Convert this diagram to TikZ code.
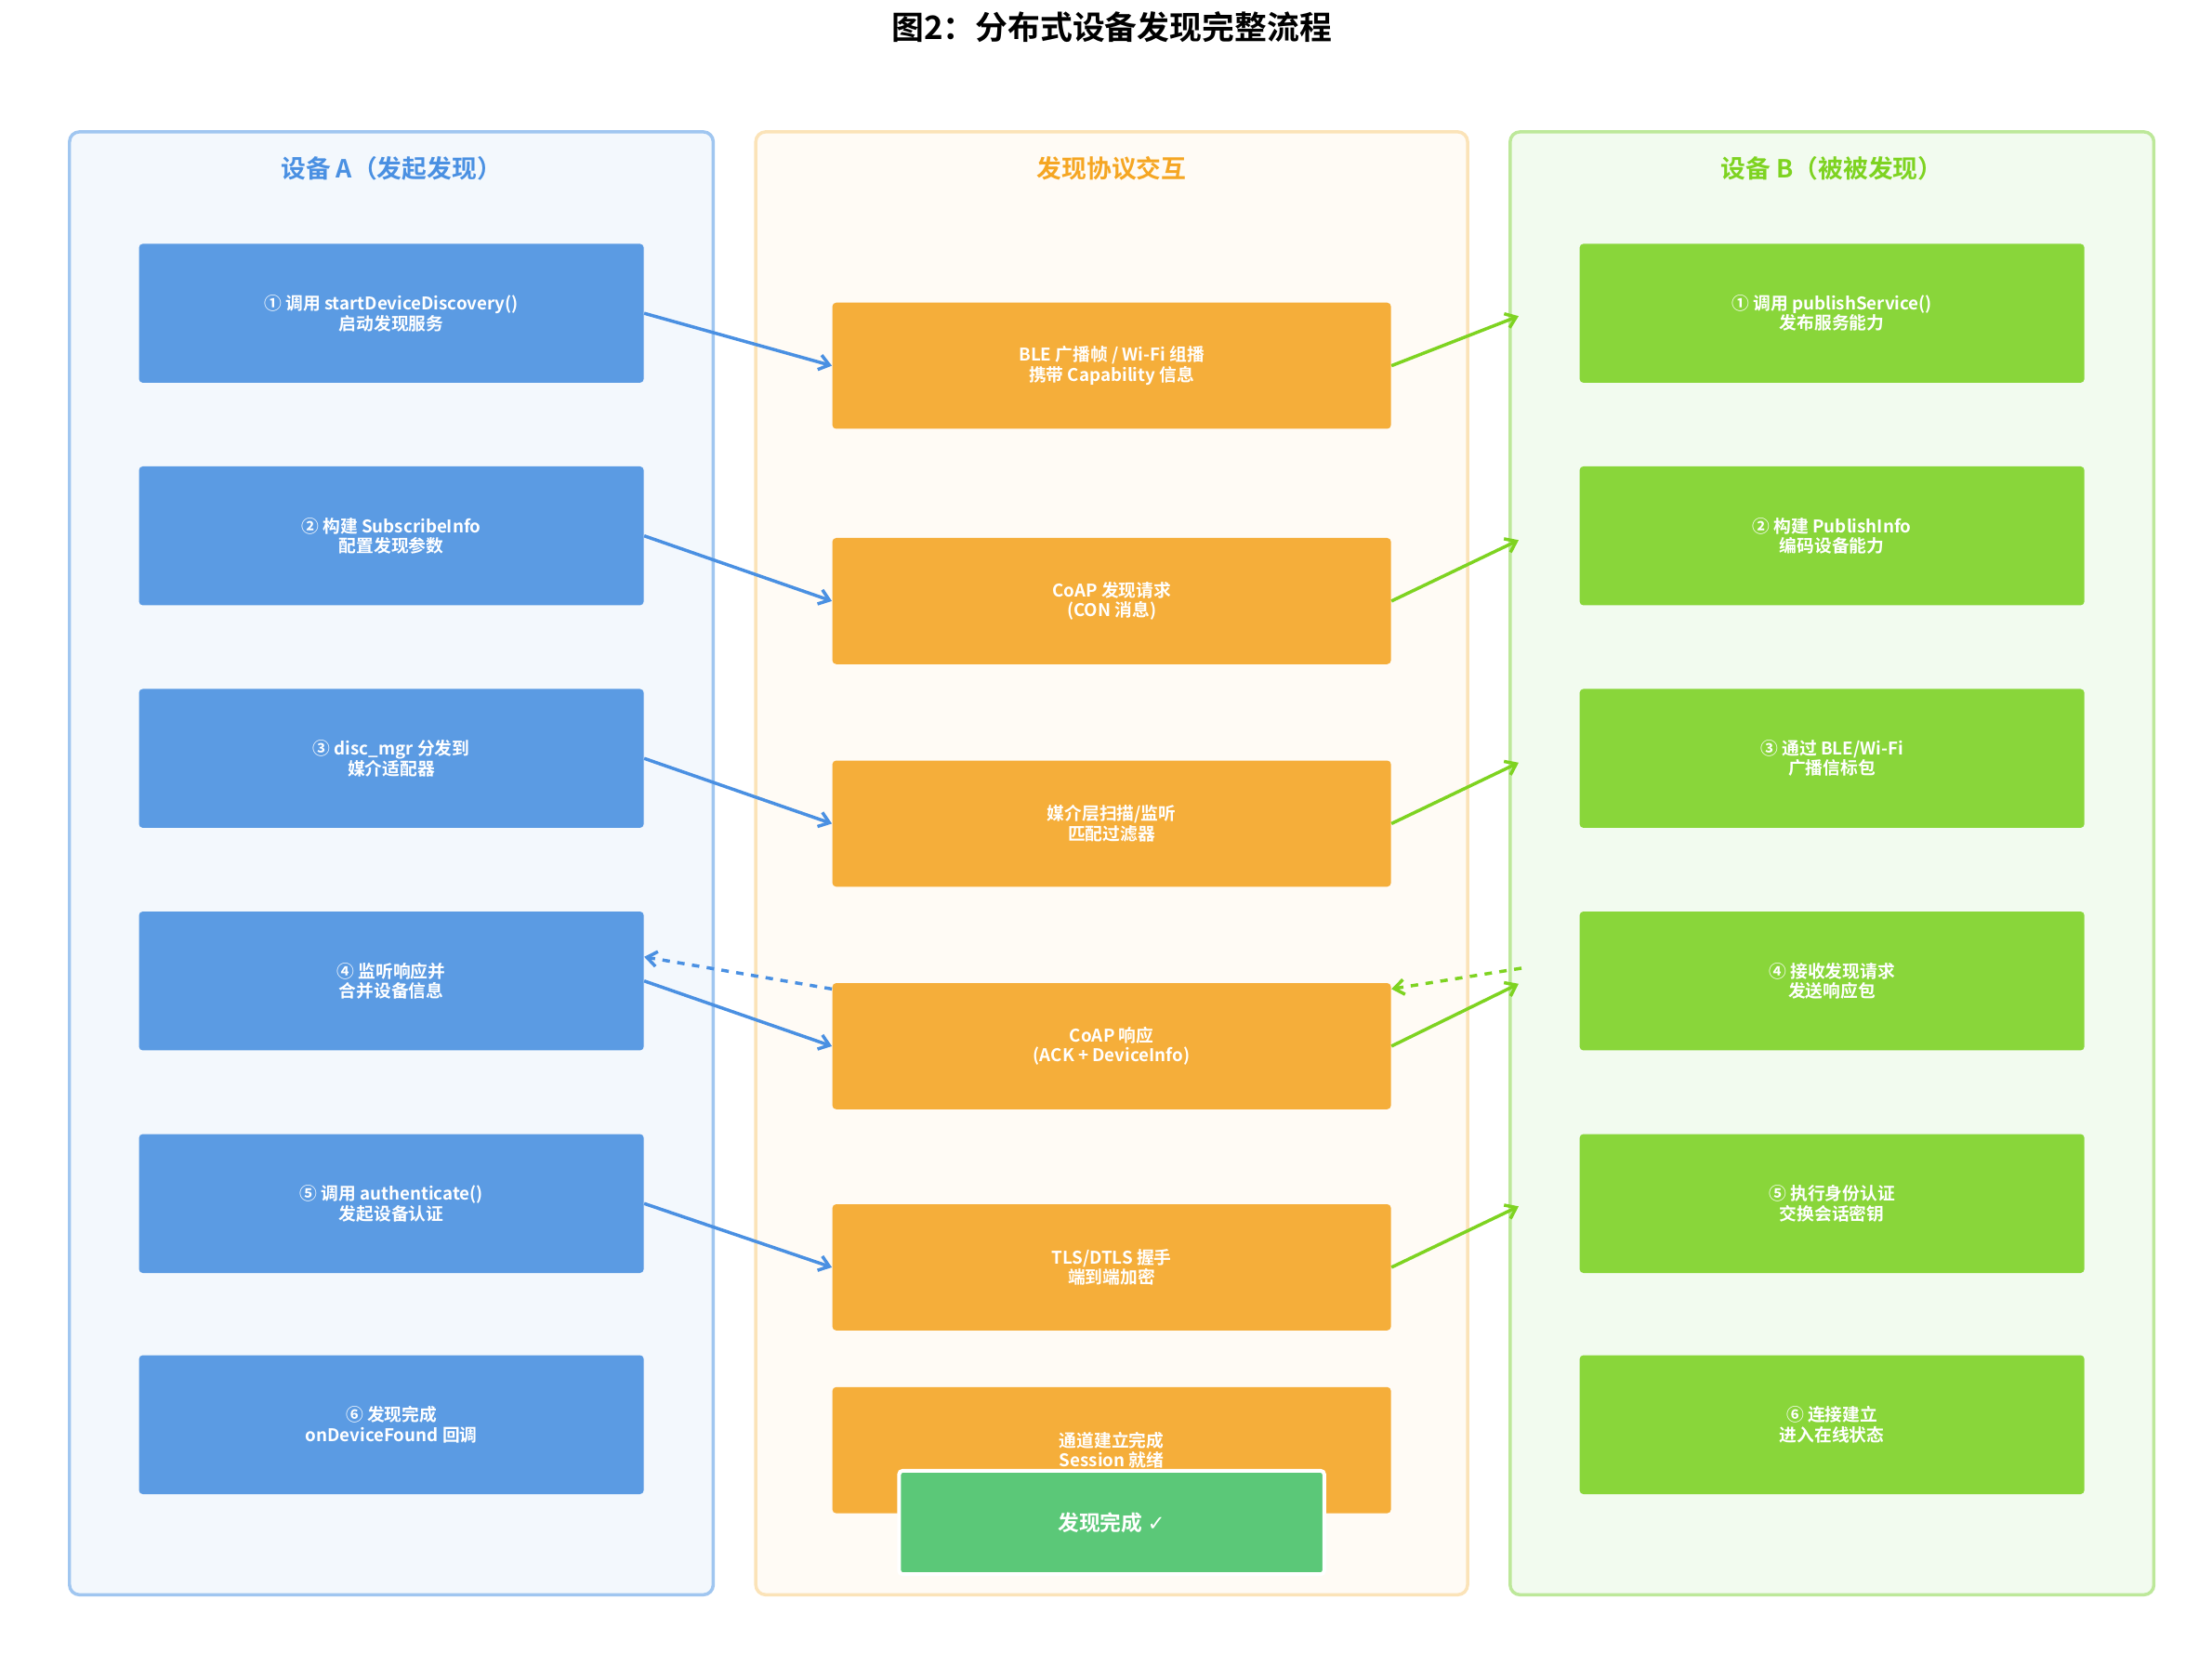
\documentclass[tikz,border=0pt]{standalone}
\usepackage{fontspec}
\setmainfont{Noto Sans CJK SC}[BoldFont={Noto Sans CJK SC Bold}]
\newfontfamily\symfont{DejaVu Sans}
\usetikzlibrary{arrows.meta}
\definecolor{ablue}{HTML}{5B9BE3}
\definecolor{ablueline}{HTML}{4A90E2}
\definecolor{apanel}{HTML}{F3F8FD}
\definecolor{apanelline}{HTML}{A0C6F0}
\definecolor{morange}{HTML}{F5AE3A}
\definecolor{mtitle}{HTML}{F5A623}
\definecolor{mpanel}{HTML}{FFFBF5}
\definecolor{mpanelline}{HTML}{FBE3B8}
\definecolor{bgreen}{HTML}{89D63A}
\definecolor{bgreenline}{HTML}{7ED321}
\definecolor{bpanel}{HTML}{F2FBEF}
\definecolor{bpanelline}{HTML}{BDE89A}
\definecolor{donegreen}{HTML}{5BC878}
\tikzset{
  panel/.style={rounded corners=4pt, line width=1.3pt},
  stepbox/.style={rounded corners=1.5pt, text=white, font=\bfseries\fontsize{7}{8}\selectfont, align=center, inner sep=0pt},
  flow/.style={line width=1.3pt, -{Straight Barb[length=4pt,width=6pt]}},
}
\begin{document}
\begin{tikzpicture}[x=0.02cm,y=-0.02cm]
	\useasboundingbox (0,0) rectangle (1560,1166);
	\node (title) at (784,19) {\bfseries\fontsize{13}{15}\selectfont 图2：分布式设备发现完整流程};
	% panels
	\draw [panel, apanelline, fill=apanel] (49,93) rectangle (503,1125);
	\draw [panel, mpanelline, fill=mpanel] (533,93) rectangle (1035,1125);
	\draw [panel, bpanelline, fill=bpanel] (1065,93) rectangle (1519,1125);
	\node [text=ablueline] (tA) at (276,119) {\bfseries\fontsize{10}{12}\selectfont 设备 A（发起发现）};
	\node [text=mtitle] (tM) at (784,119) {\bfseries\fontsize{10}{12}\selectfont 发现协议交互};
	\node [text=bgreenline] (tB) at (1292,119) {\bfseries\fontsize{10}{12}\selectfont 设备 B（被被发现）};
	% device A
	\node [stepbox, fill=ablue, minimum width=7.12cm, minimum height=1.96cm] (a1) at (276,221) {① 调用 startDeviceDiscovery()\\启动发现服务};
	\node [stepbox, fill=ablue, minimum width=7.12cm, minimum height=1.96cm] (a2) at (276,378) {② 构建 SubscribeInfo\\配置发现参数};
	\node [stepbox, fill=ablue, minimum width=7.12cm, minimum height=1.96cm] (a3) at (276,535) {③ disc\_mgr 分发到\\媒介适配器};
	\node [stepbox, fill=ablue, minimum width=7.12cm, minimum height=1.96cm] (a4) at (276,692) {④ 监听响应并\\合并设备信息};
	\node [stepbox, fill=ablue, minimum width=7.12cm, minimum height=1.96cm] (a5) at (276,849) {⑤ 调用 authenticate()\\发起设备认证};
	\node [stepbox, fill=ablue, minimum width=7.12cm, minimum height=1.96cm] (a6) at (276,1005) {⑥ 发现完成\\onDeviceFound 回调};
	% protocol
	\node [stepbox, fill=morange, minimum width=7.88cm, minimum height=1.78cm] (m1) at (784,258) {BLE 广播帧 / Wi-Fi 组播\\携带 Capability 信息};
	\node [stepbox, fill=morange, minimum width=7.88cm, minimum height=1.78cm] (m2) at (784,424) {CoAP 发现请求\\(CON 消息)};
	\node [stepbox, fill=morange, minimum width=7.88cm, minimum height=1.78cm] (m3) at (784,581) {媒介层扫描/监听\\匹配过滤器};
	\node [stepbox, fill=morange, minimum width=7.88cm, minimum height=1.78cm] (m4) at (784,738) {CoAP 响应\\(ACK + DeviceInfo)};
	\node [stepbox, fill=morange, minimum width=7.88cm, minimum height=1.78cm] (m5) at (784,894) {TLS/DTLS 握手\\端到端加密};
	\node [stepbox, fill=morange, minimum width=7.88cm, minimum height=1.78cm] (m6) at (784,1023) {通道建立完成\\Session 就绪};
	% device B
	\node [stepbox, fill=bgreen, minimum width=7.12cm, minimum height=1.96cm] (b1) at (1292,221) {① 调用 publishService()\\发布服务能力};
	\node [stepbox, fill=bgreen, minimum width=7.12cm, minimum height=1.96cm] (b2) at (1292,378) {② 构建 PublishInfo\\编码设备能力};
	\node [stepbox, fill=bgreen, minimum width=7.12cm, minimum height=1.96cm] (b3) at (1292,535) {③ 通过 BLE/Wi-Fi\\广播信标包};
	\node [stepbox, fill=bgreen, minimum width=7.12cm, minimum height=1.96cm] (b4) at (1292,692) {④ 接收发现请求\\发送响应包};
	\node [stepbox, fill=bgreen, minimum width=7.12cm, minimum height=1.96cm] (b5) at (1292,849) {⑤ 执行身份认证\\交换会话密钥};
	\node [stepbox, fill=bgreen, minimum width=7.12cm, minimum height=1.96cm] (b6) at (1292,1005) {⑥ 连接建立\\进入在线状态};
	\node [stepbox, fill=donegreen, draw=white, line width=1.5pt, minimum width=6cm, minimum height=1.46cm, font=\bfseries\fontsize{8.5}{10}\selectfont] (done) at (784,1074) {发现完成 {\symfont ✓}};
	% connectors
	\draw [flow, ablueline] (a1.east) -- (m1.west);
	\draw [flow, ablueline] (a2.east) -- (m2.west);
	\draw [flow, ablueline] (a3.east) -- (m3.west);
	\draw [flow, ablueline] (a4.east) -- (m4.west);
	\draw [flow, ablueline] (a5.east) -- (m5.west);
	\coordinate (g1) at (1071,223);
	\coordinate (g2) at (1071,381);
	\coordinate (g3) at (1071,538);
	\coordinate (g4) at (1071,694);
	\coordinate (g5) at (1071,851);
	\draw [flow, bgreenline] (m1.east) -- (g1);
	\draw [flow, bgreenline] (m2.east) -- (g2);
	\draw [flow, bgreenline] (m3.east) -- (g3);
	\draw [flow, bgreenline] (m4.east) -- (g4);
	\draw [flow, bgreenline] (m5.east) -- (g5);
	\coordinate (r1) at (1073,683);
	\draw [flow, ablueline, dashed] ([yshift=-0.09cm]m4.north west) -- ([yshift=0.34cm]a4.east);
	\draw [flow, bgreenline, dashed] (r1) -- ([yshift=-0.09cm]m4.north east);
\end{tikzpicture}
\end{document}
